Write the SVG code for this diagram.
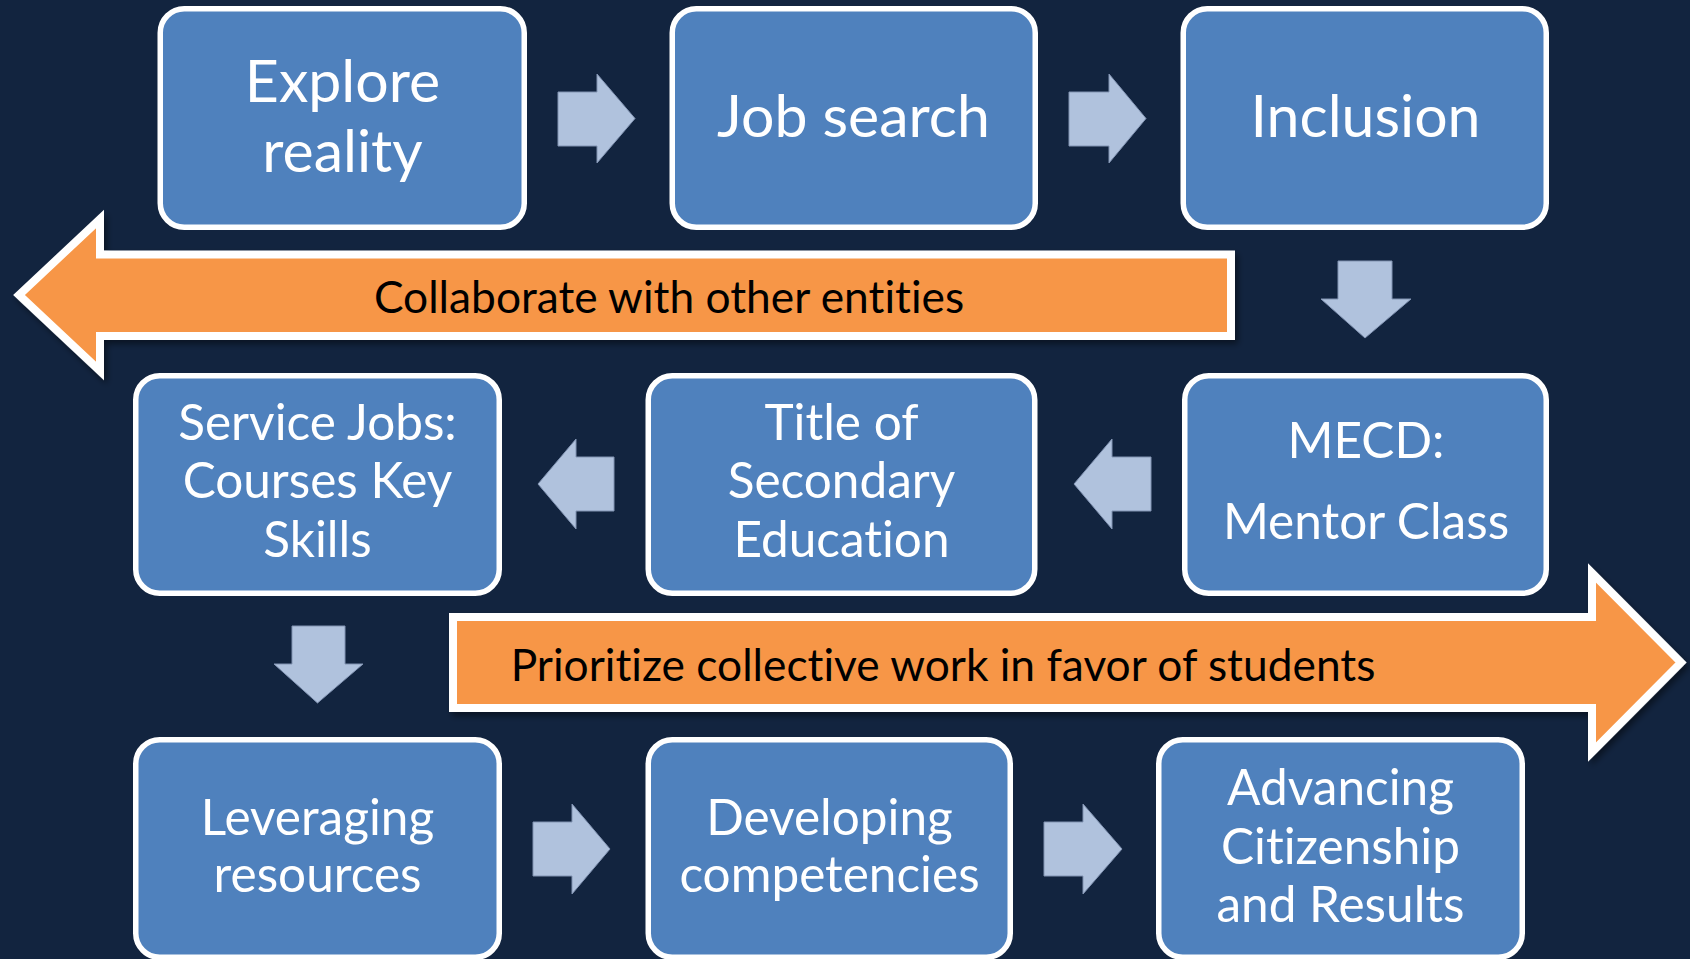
<svg xmlns="http://www.w3.org/2000/svg" width="1690" height="959" viewBox="0 0 1690 959">
<defs>
<style>
text{font-variant-ligatures:none;font-feature-settings:"liga" 0,"clig" 0}
.box{fill:#4f81bd;stroke:#ffffff;stroke-width:5.5}
.bt{fill:#ffffff;font-family:Lato,"Liberation Sans",sans-serif;text-anchor:middle}
.b1{font-size:59px}
.b2{font-size:49.5px}
.sa{fill:#b0c2dd;stroke:#8193b2;stroke-width:1}
.oa{fill:#f79646;stroke:#ffffff;stroke-width:8;stroke-linejoin:miter;stroke-miterlimit:10;filter:url(#sh)}
.ot{fill:#000000;font-family:Lato,"Liberation Sans",sans-serif;font-size:44.3px;text-anchor:middle}
</style>
<filter id="sh" x="-5%" y="-20%" width="110%" height="140%">
<feDropShadow dx="3" dy="4" stdDeviation="3" flood-color="#000000" flood-opacity="0.45"/>
</filter>
</defs>
<rect width="1690" height="959" fill="#12243f"/>
<g id="connectors">
<polygon class="sa" points="558,92 597,92 597,74 635,118.5 597,163 597,146 558,146"/>
<polygon class="sa" points="1069,92 1109,92 1109,74 1146,118.5 1109,163 1109,146 1069,146"/>
<polygon class="sa" points="1338,261 1392,261 1392,299 1411,299 1365,338 1321,299 1338,299"/>
<polygon class="sa" points="1151,457 1112,457 1112,439 1074,484 1112,529 1112,511 1151,511"/>
<polygon class="sa" points="614,457 576,457 576,439 538,484 576,529 576,511 614,511"/>
<polygon class="sa" points="292,626 345,626 345,664 363,664 317.5,703 274,664 292,664"/>
<polygon class="sa" points="533,822 572,822 572,804 610,849 572,894 572,876 533,876"/>
<polygon class="sa" points="1044,822 1083,822 1083,804 1122,849 1083,894 1083,876 1044,876"/>
</g>
<g id="collaborate">
<polygon class="oa" points="1231,254.5 100,254.5 100,219 19,295 100,371 100,336 1231,336"/>
<text class="ot" x="669" y="313">Collaborate with other entities</text>
</g>
<g id="prioritize">
<polygon class="oa" points="453,617 1592,617 1592,573 1681,662.5 1592,752 1592,708 453,708"/>
<text class="ot" x="943" y="681">Prioritize collective work in favor of students</text>
</g>
<g id="explore">
<rect class="box" x="160.25" y="8.75" width="364" height="218.5" rx="24"/>
<text class="bt b1" x="342.5" y="101.7">Explore</text>
<text class="bt b1" x="342.5" y="171.7">reality</text>
</g>
<g id="jobsearch">
<rect class="box" x="672.25" y="8.75" width="363" height="218.5" rx="24"/>
<text class="bt b1" x="853.5" y="136.7">Job search</text>
</g>
<g id="inclusion">
<rect class="box" x="1183.25" y="8.75" width="363" height="218.5" rx="24"/>
<text class="bt b1" x="1365.5" y="136.7">Inclusion</text>
</g>
<g id="servicejobs">
<rect class="box" x="135.75" y="375.75" width="363.5" height="217.5" rx="24"/>
<text class="bt b2" x="317.5" y="440">Service Jobs:</text>
<text class="bt b2" x="317.5" y="498.3">Courses Key</text>
<text class="bt b2" x="317.5" y="556.7">Skills</text>
</g>
<g id="title">
<rect class="box" x="648.25" y="375.75" width="386.5" height="217.5" rx="24"/>
<text class="bt b2" x="841.5" y="440">Title of</text>
<text class="bt b2" x="841.5" y="498.3">Secondary</text>
<text class="bt b2" x="841.5" y="556.7">Education</text>
</g>
<g id="mecd">
<rect class="box" x="1184.75" y="375.75" width="361.5" height="217.5" rx="24"/>
<text class="bt b2" x="1366" y="458.3">MECD:</text>
<text class="bt b2" x="1366" y="539.3">Mentor Class</text>
</g>
<g id="leveraging">
<rect class="box" x="135.75" y="739.75" width="363.5" height="217.5" rx="24"/>
<text class="bt b2" x="317.5" y="835">Leveraging</text>
<text class="bt b2" x="317.5" y="892">resources</text>
</g>
<g id="developing">
<rect class="box" x="648.25" y="739.75" width="362" height="217.5" rx="24"/>
<text class="bt b2" x="829.5" y="835">Developing</text>
<text class="bt b2" x="829.5" y="892">competencies</text>
</g>
<g id="advancing">
<rect class="box" x="1158.75" y="739.75" width="363.5" height="217.5" rx="24"/>
<text class="bt b2" x="1340.5" y="805">Advancing</text>
<text class="bt b2" x="1340.5" y="864">Citizenship</text>
<text class="bt b2" x="1340.5" y="922">and Results</text>
</g>
</svg>
